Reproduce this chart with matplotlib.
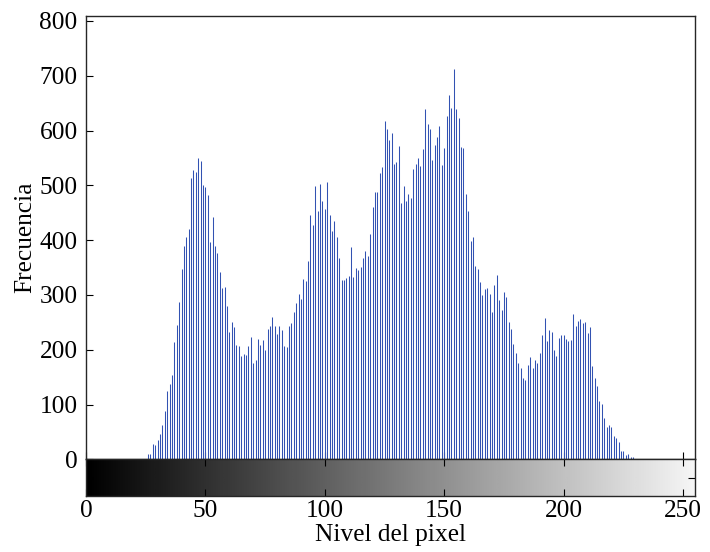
import numpy as np
import matplotlib
matplotlib.use('Agg')
import matplotlib.pyplot as plt

# Histogram counts, levels 26..229 (others are zero)
first_level = 26
counts = [
    9, 10, 28, 27, 35, 47, 62, 88, 125, 137, 154, 214, 245, 287, 347, 389, 406, 420,
    513, 528, 524, 549, 545, 501, 497, 482, 396, 442, 390, 376, 342, 312, 314, 280,
    232, 251, 242, 209, 207,
    188, 193, 190, 207, 224, 176, 181, 220, 209, 218, 199, 238, 243, 260, 243, 229,
    243, 236, 207, 205, 244, 249, 269, 285, 302, 293, 329, 325, 362, 445, 428, 498,
    453, 502, 471, 457, 506, 446, 417, 435, 406, 367,
    328, 327, 331, 334, 387, 333, 349, 346, 351, 367, 380, 371, 411, 460, 488, 488,
    523, 533, 617, 603, 583, 595, 538, 543, 572, 468, 499, 471, 484, 476, 530, 538,
    549, 536, 566, 639, 611, 603, 546, 573, 588, 608,
    537, 569, 626, 665, 642, 713, 640, 623, 570, 569, 484, 454, 398, 406, 353, 347,
    324, 299, 311, 313, 302, 269, 319, 336, 291, 272, 305, 296, 251, 238, 210, 194,
    176, 166, 148, 145, 172, 187, 167, 181, 175, 194,
    226, 257, 215, 236, 232, 199, 189, 221, 227, 226, 220, 215, 218, 265, 243, 253,
    256, 249, 251, 230, 241, 171, 148, 134, 106, 101, 75, 59, 63, 59, 43, 39, 32,
    15, 16, 8, 10, 4, 4,
]
levels = np.arange(first_level, first_level + len(counts))

x_ticks = [0, 50, 100, 150, 200, 250]
y_ticks = [0, 100, 200, 300, 400, 500, 600, 700, 800]

plt.rcParams['font.family'] = ['Liberation Serif', 'DejaVu Serif']
plt.rcParams['font.size'] = 18.3

fig = plt.figure(figsize=(7.1, 5.52), dpi=100)
ax = fig.add_axes([86 / 710, 92.7 / 552, 609 / 710, 443.3 / 552])
cax = fig.add_axes([86 / 710, 56 / 552, 609 / 710, 36.7 / 552])

ax.vlines(levels, 0, counts, color='#3252b2', linewidth=0.75)
ax.set_xlim(0, 255)
ax.set_ylim(0, 809)
ax.set_yticks(y_ticks)
ax.set_xticks(x_ticks)
ax.set_xticklabels([])
ax.tick_params(direction='in', length=5, width=0.8, top=False, right=False, pad=6)
ax.set_ylabel('Frecuencia', labelpad=2)

# grey ramp under the histogram
ramp = np.linspace(0, 1, 256).reshape(1, -1)
cax.imshow(ramp, cmap='gray', aspect='auto', extent=[0, 255, 0, 1], vmin=0, vmax=1.04)
cax.set_xlim(0, 255)
cax.set_ylim(0, 1)
cax.set_xticks(x_ticks)
cax.set_yticks([0.5])
cax.set_yticklabels([])
cax.tick_params(direction='in', length=5, width=0.8, top=True, right=True, pad=3)
cax.set_xlabel('Nivel del pixel', labelpad=1)

for a in (ax, cax):
    for s in a.spines.values():
        s.set_linewidth(1.0)
        s.set_color('#262626')

fig.savefig('out.png', dpi=100)
